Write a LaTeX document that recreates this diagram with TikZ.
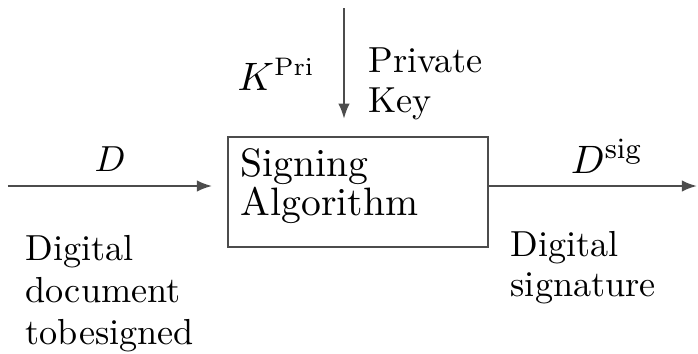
\documentclass[tikz,border=0pt]{standalone}
\usetikzlibrary{arrows.meta}

\begin{document}
\begin{tikzpicture}[x=0.2762pt,y=-0.2762pt,>={Latex[length=4.2pt,width=3.2pt]},
    line/.style={draw=black!70,line width=0.6pt},
    lbl/.style={inner sep=0pt,align=left,anchor=base west,font=\fontsize{10}{11.5}\selectfont}]
    \useasboundingbox (0,0) rectangle (698,354);
    % signing box
    \node[line,inner sep=0pt,minimum width=71.8pt,minimum height=30.4pt] (alg) at (358,192) {};
    \node[lbl,font=\fontsize{10.95}{10.5}\selectfont] (algtxt) at (240,215) {Signing\\Algorithm};
    % connectors
    \coordinate (docin) at (8,186);
    \coordinate (sigout) at (697,186);
    \coordinate (keyin) at (344,8);
    \draw[line,->,shorten >=4.1pt] (docin) -- (docin -| alg.west);
    \draw[line,->] (sigout -| alg.east) -- (sigout);
    \draw[line,->,shorten >=4.7pt] (keyin) -- (keyin |- alg.north);
    % labels (multi-line: base = last line)
    \node[inner sep=0pt,anchor=base] (dlab) at (110,171) {$D$};
    \node[inner sep=0pt,anchor=base,font=\fontsize{11}{13}\selectfont] (siglab) at (607,173) {$D^{\mathrm{sig}}$};
    \node[inner sep=0pt,anchor=base west,font=\fontsize{10.5}{12}\selectfont] (klab) at (237,90) {$K^{\mathrm{Pri}}$};
    \node[lbl,font=\fontsize{10}{10.8}\selectfont] (keytxt) at (368,112) {Private\\Key};
    \node[lbl] (doctxt) at (25,344) {Digital\\document\\tobesigned};
    \node[lbl,font=\fontsize{10}{11}\selectfont] (sigtxt) at (510,296) {Digital\\signature};
\end{tikzpicture}
\end{document}
